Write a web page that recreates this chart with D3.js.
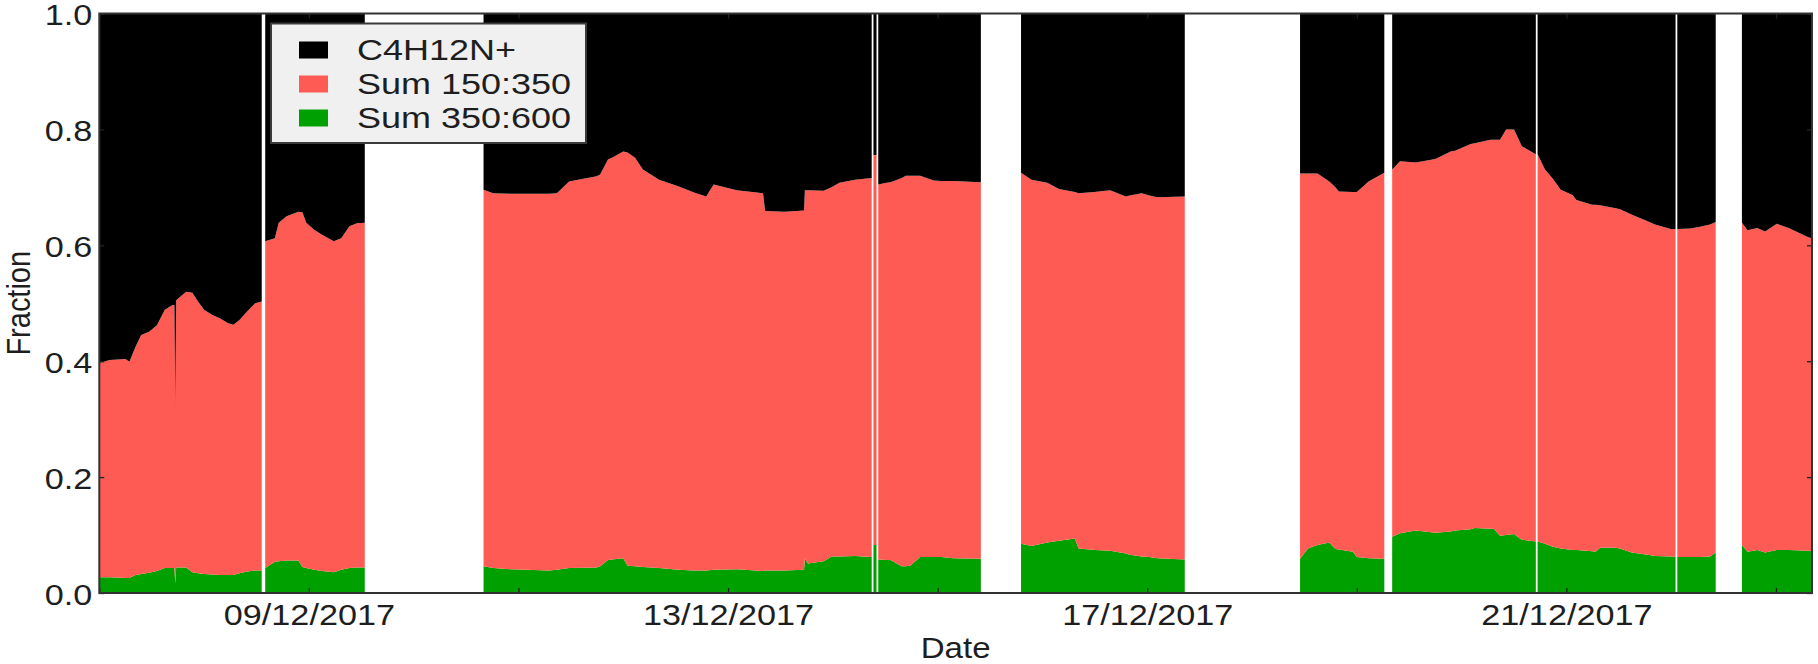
<!DOCTYPE html>
<html><head><meta charset="utf-8">
<script src="https://cdnjs.cloudflare.com/ajax/libs/d3/7.8.5/d3.min.js"></script>
<style>
body{margin:0;background:#fff;}
svg{display:block;}
text{font-family:"Liberation Sans",Arial,Helvetica,sans-serif;fill:#1e1e1e;}
</style>
</head><body>
<svg id="chart" width="1818" height="664"></svg>
<script>
// ---------------- data ----------------
// null entries mark gaps in the measurement record
const times = [
"2017-12-07T00:00","2017-12-07T02:24","2017-12-07T06:00","2017-12-07T06:54","2017-12-07T08:18","2017-12-07T09:36",
"2017-12-07T11:24","2017-12-07T13:12","2017-12-07T15:00","2017-12-07T16:48","2017-12-07T17:12","2017-12-07T17:24",
"2017-12-07T17:36","2017-12-07T18:12","2017-12-07T19:54","2017-12-07T21:18","2017-12-07T22:36","2017-12-08T00:00",
"2017-12-08T01:48","2017-12-08T03:36","2017-12-08T05:24","2017-12-08T06:42","2017-12-08T08:06","2017-12-08T09:54",
"2017-12-08T11:42","2017-12-08T13:12",
"2017-12-08T13:36",
"2017-12-08T14:00","2017-12-08T16:12","2017-12-08T17:06","2017-12-08T18:54","2017-12-08T21:36","2017-12-08T22:30",
"2017-12-08T23:24","2017-12-09T01:12","2017-12-09T03:00","2017-12-09T05:42","2017-12-09T07:24","2017-12-09T09:18",
"2017-12-09T11:00","2017-12-09T12:48",
"2017-12-10T02:00",
"2017-12-10T16:00","2017-12-10T18:12","2017-12-10T22:06","2017-12-11T07:00","2017-12-11T08:48","2017-12-11T11:36",
"2017-12-11T17:54","2017-12-11T18:42","2017-12-11T20:30","2017-12-11T21:24","2017-12-12T00:00","2017-12-12T01:00",
"2017-12-12T02:42","2017-12-12T04:30","2017-12-12T08:12","2017-12-12T12:36","2017-12-12T16:12","2017-12-12T19:00",
"2017-12-12T20:42","2017-12-13T02:00","2017-12-13T08:00","2017-12-13T08:30","2017-12-13T13:00","2017-12-13T17:24",
"2017-12-13T17:36","2017-12-13T18:18","2017-12-13T21:54","2017-12-13T23:42","2017-12-14T01:30","2017-12-14T05:06",
"2017-12-14T08:54",
"2017-12-14T09:06",
"2017-12-14T09:18","2017-12-14T10:00",
"2017-12-14T10:12",
"2017-12-14T10:24","2017-12-14T12:18","2017-12-14T13:12","2017-12-14T15:48","2017-12-14T16:42","2017-12-14T17:42",
"2017-12-14T20:00","2017-12-14T23:06","2017-12-15T00:48","2017-12-15T03:30","2017-12-15T09:54",
"2017-12-15T14:00",
"2017-12-15T19:06","2017-12-15T21:30","2017-12-16T01:06","2017-12-16T03:48","2017-12-16T07:24","2017-12-16T08:18",
"2017-12-16T11:54","2017-12-16T15:30","2017-12-16T19:06","2017-12-16T20:00","2017-12-16T22:42","2017-12-17T00:30",
"2017-12-17T02:18","2017-12-17T08:36",
"2017-12-17T22:00",
"2017-12-18T11:00","2017-12-18T12:48","2017-12-18T15:00","2017-12-18T17:42","2017-12-18T19:06","2017-12-18T19:54",
"2017-12-18T23:06","2017-12-19T00:00","2017-12-19T02:42","2017-12-19T06:18",
"2017-12-19T07:12",
"2017-12-19T08:06","2017-12-19T09:54","2017-12-19T13:30","2017-12-19T18:00","2017-12-19T21:30","2017-12-19T22:30",
"2017-12-20T02:06","2017-12-20T03:00","2017-12-20T06:36","2017-12-20T07:24","2017-12-20T08:48","2017-12-20T10:12",
"2017-12-20T12:00","2017-12-20T13:48","2017-12-20T17:00",
"2017-12-20T17:12",
"2017-12-20T17:24","2017-12-20T19:06","2017-12-20T20:54","2017-12-20T22:42","2017-12-21T01:24","2017-12-21T02:18",
"2017-12-21T05:54","2017-12-21T06:42","2017-12-21T07:42","2017-12-21T11:18","2017-12-21T12:18","2017-12-21T14:54",
"2017-12-21T19:24","2017-12-21T20:18","2017-12-21T23:54","2017-12-22T01:00",
"2017-12-22T01:12",
"2017-12-22T01:24","2017-12-22T04:24","2017-12-22T06:36","2017-12-22T08:54","2017-12-22T10:12",
"2017-12-22T13:00",
"2017-12-22T16:12","2017-12-22T17:30","2017-12-22T19:42","2017-12-22T21:30","2017-12-23T00:12","2017-12-23T02:54",
"2017-12-23T07:24","2017-12-23T08:12"
];

const sum350_600 = [
0.027,0.027,0.026,0.026,0.031,0.033,0.035,0.038,0.043,0.043,0.043,0.017,
0.044,0.044,0.044,0.036,0.034,0.033,0.032,0.031,0.031,0.031,0.034,0.037,
0.039,0.039,
null,
0.043,0.054,0.055,0.056,0.056,0.045,0.043,0.040,0.038,0.036,0.040,0.043,
0.044,0.044,
null,
0.046,0.043,0.041,0.039,0.040,0.043,0.044,0.046,0.057,0.058,0.060,0.047,
0.046,0.045,0.043,0.040,0.039,0.039,0.040,0.041,0.038,0.039,0.039,0.040,
0.060,0.051,0.055,0.063,0.063,0.064,0.062,
null,
0.083,0.083,
null,
0.058,0.057,0.057,0.046,0.046,0.047,0.062,0.062,0.062,0.060,0.059,
null,
0.085,0.081,0.087,0.090,0.094,0.077,0.074,0.073,0.068,0.066,0.063,0.062,
0.060,0.058,
null,
0.059,0.077,0.083,0.087,0.076,0.075,0.071,0.062,0.060,0.059,
null,
0.097,0.103,0.108,0.104,0.106,0.108,0.110,0.112,0.111,0.111,0.099,0.100,
0.102,0.092,0.089,
null,
0.089,0.085,0.080,0.077,0.074,0.074,0.072,0.071,0.078,0.078,0.077,0.070,
0.065,0.064,0.063,0.063,
null,
0.062,0.062,0.062,0.063,0.070,
null,
0.083,0.071,0.074,0.070,0.074,0.074,0.073,0.073
];

const sum150_350 = [
0.370,0.375,0.378,0.373,0.394,0.412,0.416,0.424,0.446,0.454,0.454,0.303,
0.461,0.465,0.476,0.482,0.469,0.456,0.448,0.443,0.435,0.432,0.437,0.449,
0.461,0.464,
null,
0.564,0.558,0.584,0.594,0.602,0.612,0.596,0.587,0.580,0.571,0.572,0.590,
0.594,0.595,
null,
0.650,0.647,0.648,0.650,0.650,0.667,0.675,0.676,0.691,0.693,0.702,0.713,
0.705,0.686,0.670,0.662,0.652,0.645,0.665,0.654,0.652,0.620,0.619,0.620,
0.635,0.644,0.639,0.637,0.645,0.649,0.654,
null,
0.673,0.673,
null,
0.647,0.651,0.652,0.670,0.674,0.673,0.658,0.650,0.649,0.651,0.650,
null,
0.640,0.632,0.621,0.607,0.598,0.613,0.618,0.622,0.616,0.620,0.627,0.624,
0.623,0.626,
null,
0.665,0.647,0.641,0.623,0.624,0.618,0.621,0.630,0.650,0.666,
null,
0.634,0.642,0.635,0.645,0.656,0.655,0.665,0.664,0.671,0.671,0.683,0.700,
0.698,0.679,0.668,
null,
0.668,0.646,0.635,0.619,0.613,0.604,0.598,0.599,0.591,0.586,0.585,0.583,
0.574,0.572,0.565,0.565,
null,
0.566,0.567,0.570,0.573,0.570,
null,
0.556,0.555,0.556,0.554,0.563,0.556,0.541,0.539
];

const c4h12n = [
0.603,0.598,0.596,0.601,0.575,0.555,0.549,0.538,0.511,0.503,0.503,0.680,
0.495,0.491,0.480,0.482,0.497,0.511,0.520,0.526,0.534,0.537,0.529,0.514,
0.500,0.497,
null,
0.393,0.388,0.361,0.350,0.342,0.343,0.361,0.373,0.382,0.393,0.388,0.367,
0.362,0.361,
null,
0.304,0.310,0.311,0.311,0.310,0.290,0.281,0.278,0.252,0.249,0.238,0.240,
0.249,0.269,0.287,0.298,0.309,0.316,0.295,0.305,0.310,0.341,0.342,0.340,
0.305,0.305,0.306,0.300,0.292,0.287,0.284,
null,
0.244,0.244,
null,
0.295,0.292,0.291,0.284,0.280,0.280,0.280,0.288,0.289,0.289,0.291,
null,
0.275,0.287,0.292,0.303,0.308,0.310,0.308,0.305,0.316,0.314,0.310,0.314,
0.317,0.316,
null,
0.276,0.276,0.276,0.290,0.300,0.307,0.308,0.308,0.290,0.275,
null,
0.269,0.255,0.257,0.251,0.238,0.237,0.225,0.224,0.218,0.218,0.218,0.200,
0.200,0.229,0.243,
null,
0.243,0.269,0.285,0.304,0.313,0.322,0.330,0.330,0.331,0.336,0.338,0.347,
0.361,0.364,0.372,0.372,
null,
0.372,0.371,0.368,0.364,0.360,
null,
0.361,0.374,0.370,0.376,0.363,0.370,0.386,0.388
];

const seriesNames  = ["C4H12N+", "Sum 150:350", "Sum 350:600"];
const seriesColors = ["#000000", "#fe5b55", "#00a000"];

const xDomain   = ["2017-12-07T00:00", "2017-12-23T08:15"];
const tickDates = ["2017-12-07T00:00","2017-12-09T00:00","2017-12-11T00:00","2017-12-13T00:00",
                   "2017-12-15T00:00","2017-12-17T00:00","2017-12-19T00:00","2017-12-21T00:00","2017-12-23T00:00"];
const tickLabels = ["", "09/12/2017", "", "13/12/2017", "", "17/12/2017", "", "21/12/2017", ""];
const yTicks = [0, 0.2, 0.4, 0.6, 0.8, 1.0];
const xTitle = "Date";
const yTitle = "Fraction";

// ---------------- drawing ----------------
const STRETCH = 1.14;   // text in the reference is horizontally stretched
const LEG_STRETCH = 1.2;
const parse = d3.timeParse("%Y-%m-%dT%H:%M");
const svg = d3.select("#chart");

const L = 99.3, R = 1812, T = 13.5, B = 593;
const x = d3.scaleTime().domain(xDomain.map(parse)).range([L, R]);
const y = d3.scaleLinear().domain([0, 1]).range([B, T]);

const rows = times.map((t, i) => ({
  t: parse(t),
  g: sum350_600[i],
  r: sum150_350[i],
  b: c4h12n[i]
}));

const keys = ["g", "r", "b"];
const keyColor = {g: seriesColors[2], r: seriesColors[1], b: seriesColors[0]};
const stack = d3.stack().keys(keys).value((d, k) => d[k] == null ? 0 : d[k]);
const layers = stack(rows);

const area = d3.area()
  .defined(d => d.data.g != null)
  .x(d => x(d.data.t))
  .y0(d => y(d[0]))
  .y1(d => y(d[1]));

const plot = svg.append("g");
plot.selectAll("path.layer").data(layers).join("path")
  .attr("class", "layer")
  .attr("fill", d => keyColor[d.key])
  .attr("d", area);

// axes (ticks pointing inward)
const fontSize = 30;
const xb = svg.append("g").attr("transform", `translate(0,${B})`)
  .call(d3.axisBottom(x).tickValues(tickDates.map(parse))
    .tickFormat((d, i) => tickLabels[i]).tickSizeInner(-5).tickSizeOuter(0));
const xt = svg.append("g").attr("transform", `translate(0,${T})`)
  .call(d3.axisTop(x).tickValues(tickDates.map(parse))
    .tickFormat(() => "").tickSizeInner(-5).tickSizeOuter(0));
const yl = svg.append("g").attr("transform", `translate(${L},0)`)
  .call(d3.axisLeft(y).tickValues(yTicks).tickFormat(d3.format(".1f"))
    .tickSizeInner(-5).tickSizeOuter(0));
const yr = svg.append("g").attr("transform", `translate(${R},0)`)
  .call(d3.axisRight(y).tickValues(yTicks).tickFormat(() => "")
    .tickSizeInner(-5).tickSizeOuter(0));

[xb, xt, yl, yr].forEach(g => {
  g.select(".domain").remove();
  g.selectAll(".tick line").attr("stroke", "#222").attr("stroke-width", 1.3);
  g.attr("font-family", null).attr("font-size", null);
});

xb.selectAll(".tick text")
  .attr("y", 0).attr("dy", null)
  .attr("font-size", fontSize)
  .attr("fill", "#1e1e1e")
  .attr("transform", `translate(0,32) scale(${STRETCH},1)`);

yl.selectAll(".tick text")
  .attr("x", 0).attr("dy", "0.36em")
  .attr("font-size", fontSize)
  .attr("fill", "#1e1e1e")
  .attr("transform", `translate(-7,0.5) scale(${STRETCH},1)`);

// frame
svg.append("rect")
  .attr("x", L).attr("y", T).attr("width", R - L).attr("height", B - T)
  .attr("fill", "none").attr("stroke", "#333").attr("stroke-width", 2);

// titles
const titleSize = 29;
svg.append("text")
  .attr("text-anchor", "middle").attr("font-size", titleSize)
  .attr("transform", `translate(${(L + R) / 2},657.5) scale(${STRETCH},1)`)
  .text(xTitle);
svg.append("text")
  .attr("text-anchor", "middle").attr("font-size", titleSize)
  .attr("transform", `translate(30,${(T + B) / 2}) scale(${STRETCH},1) rotate(-90)`)
  .text(yTitle);

// legend
const lg = svg.append("g");
lg.append("rect")
  .attr("x", 271).attr("y", 23.5).attr("width", 315).attr("height", 119.5)
  .attr("fill", "#f0f0f0").attr("stroke", "#3a3a3a").attr("stroke-width", 2);
seriesNames.forEach((name, i) => {
  const cy = 50 + i * 34;
  lg.append("rect").attr("x", 299).attr("y", cy - 8.5).attr("width", 29).attr("height", 17)
    .attr("fill", seriesColors[i]);
  lg.append("text").attr("font-size", fontSize)
    .attr("transform", `translate(357,${cy + 10}) scale(${LEG_STRETCH},1)`)
    .text(name);
});
</script>
</body></html>
